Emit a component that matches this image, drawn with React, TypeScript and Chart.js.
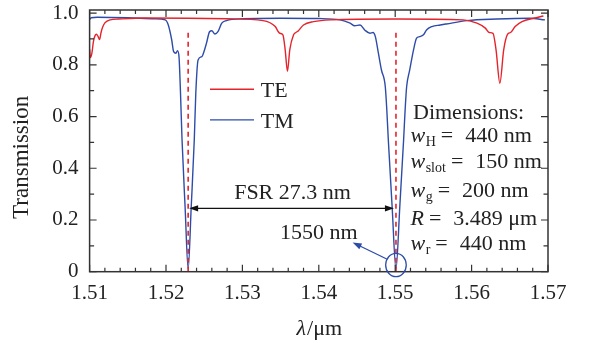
import React, { useEffect, useRef } from 'react';
import { Chart, registerables } from 'chart.js';

Chart.register(...registerables);

// ---------- data ----------
const TE_X = [
  1.5100, 1.5101, 1.5103, 1.5105, 1.5107, 1.5109, 1.5111, 1.5113, 1.5115, 1.5117,
  1.5120, 1.5127, 1.5138, 1.5173, 1.5229, 1.5280, 1.5327, 1.5343, 1.5347, 1.5349,
  1.5353, 1.5356, 1.5359, 1.5362, 1.5367, 1.5370, 1.5373, 1.5380, 1.5393, 1.5415,
  1.5501, 1.5589, 1.5607, 1.5618, 1.5623, 1.5628, 1.5632, 1.5637, 1.5642, 1.5647,
  1.5651, 1.5657, 1.5666, 1.5681, 1.5694,
];
const TE_Y = [
  0.860, 0.828, 0.845, 0.890, 0.912, 0.918, 0.910, 0.898, 0.925, 0.945,
  0.962, 0.974, 0.977, 0.981, 0.980, 0.978, 0.971, 0.948, 0.928, 0.922,
  0.916, 0.858, 0.775, 0.858, 0.916, 0.925, 0.931, 0.954, 0.967, 0.974,
  0.977, 0.974, 0.961, 0.942, 0.925, 0.922, 0.858, 0.729, 0.858, 0.918,
  0.925, 0.948, 0.967, 0.980, 0.989,
];
const TM_X = [
  1.5100, 1.5102, 1.5110, 1.5150, 1.5185, 1.5199, 1.5203, 1.52075, 1.5210, 1.5213,
  1.5215, 1.5217, 1.5219, 1.5221, 1.5225, 1.5229, 1.5233, 1.5237, 1.5239, 1.5242,
  1.5247, 1.5249, 1.5253, 1.5257, 1.5260, 1.5264, 1.5268, 1.5273, 1.5279, 1.5300,
  1.5350, 1.5400, 1.5428, 1.5441, 1.5447, 1.5454, 1.5460, 1.5467, 1.5471, 1.5474,
  1.5478, 1.5482, 1.5487, 1.5489, 1.5491, 1.5496, 1.5501, 1.5506, 1.5511, 1.5513,
  1.5515, 1.5519, 1.5524, 1.5528, 1.5532, 1.5537, 1.5541, 1.5548, 1.5559, 1.5567,
  1.5594, 1.5633, 1.5676, 1.5696,
];
const TM_Y = [
  0.975, 0.982, 0.984, 0.982, 0.978, 0.974, 0.954, 0.896, 0.851, 0.845,
  0.855, 0.832, 0.690, 0.509, 0.250, 0.010, 0.250, 0.509, 0.690, 0.819,
  0.832, 0.845, 0.884, 0.928, 0.932, 0.919, 0.928, 0.961, 0.971, 0.978,
  0.980, 0.979, 0.974, 0.961, 0.951, 0.954, 0.935, 0.922, 0.925, 0.909,
  0.845, 0.780, 0.716, 0.626, 0.509, 0.250, 0.010, 0.250, 0.509, 0.626,
  0.716, 0.780, 0.858, 0.903, 0.909, 0.916, 0.935, 0.948, 0.954, 0.958,
  0.971, 0.977, 0.980, 0.974,
];
const SERIES_LABELS = ['TE', 'TM'];
const RESONANCES = [1.5229, 1.5501];
const DASH_TOP = 0.928;
const FSR_LEVEL = 0.245;
const FSR_LABEL = 'FSR 27.3 nm';
const MARK_LABEL = '1550 nm';
const DIM_TITLE = 'Dimensions:';
const DIM_SYMBOLS = ['w', 'w', 'w', 'R', 'w'];
const DIM_SUBSCRIPTS = ['H', 'slot', 'g', '', 'r'];
const DIM_VALUES = ['440 nm', '150 nm', '200 nm', '3.489 μm', '440 nm'];

const X_MIN = 1.51;
const X_MAX = 1.57;
const Y_MIN = 0;
const Y_MAX = 1.012;
const X_TICKS = [1.51, 1.52, 1.53, 1.54, 1.55, 1.56, 1.57];
const X_TICK_LABELS = ['1.51', '1.52', '1.53', '1.54', '1.55', '1.56', '1.57'];
const Y_TICKS = [0, 0.2, 0.4, 0.6, 0.8, 1.0];
const Y_TICK_LABELS = ['0', '0.2', '0.4', '0.6', '0.8', '1.0'];
const X_TITLE_ITALIC = 'λ';
const X_TITLE_REST = '/μm';
const Y_TITLE = 'Transmission';

// ---------- styles & layout ----------
const RED = '#e5232b';
const BLUE = '#2d4ca8';
const AXIS = '#333333';
const TEXT = '#222222';
const FAMILY = "'Liberation Serif', 'Times New Roman', serif";
const font = (size: number, style = '') => `${style} ${size}px ${FAMILY}`.trim();

// annotation anchor positions (data coordinates)
const LEGEND_POS = { x0: 1.52576, x1: 1.53152, tx: 1.5324, lineY: [0.7056, 0.587], textY: [0.677, 0.555] };
const FSR_TEXT_POS = { x: 1.53656, y: 0.2797 };
const MARK_TEXT_POS = { x: 1.5400, y: 0.1265 };
const MARK_ARROW = { x0: 1.54889, y0: 0.049, x1: 1.54443, y1: 0.113 };
const MARK_ELLIPSE = { x: 1.5501, y: 0.026, rx: 10.3, ry: 11.7 };
const DIM_POS = { titleX: 1.55233, symX: 1.5520, baselines: [0.5896, 0.5017, 0.400, 0.290, 0.1807, 0.0839] };

function arrowHead(ctx: CanvasRenderingContext2D, tx: number, ty: number, ang: number, len: number, hw: number) {
  const bx = tx - Math.cos(ang) * len;
  const by = ty - Math.sin(ang) * len;
  const nx = -Math.sin(ang) * hw;
  const ny = Math.cos(ang) * hw;
  ctx.beginPath();
  ctx.moveTo(tx, ty);
  ctx.lineTo(bx + nx, by + ny);
  ctx.lineTo(bx - nx, by - ny);
  ctx.closePath();
  ctx.fill();
}

const decorPlugin = {
  id: 'decor',
  afterDatasetsDraw(chart: any) {
    const { ctx, chartArea: a } = chart;
    const xs = chart.scales.x;
    const ys = chart.scales.y;
    const X = (v: number) => xs.getPixelForValue(v);
    const Y = (v: number) => ys.getPixelForValue(v);
    ctx.save();

    // frame
    ctx.strokeStyle = AXIS;
    ctx.lineWidth = 1.5;
    ctx.strokeRect(a.left, a.top, a.right - a.left, a.bottom - a.top);

    // inward ticks on all four sides
    ctx.lineWidth = 1.2;
    ctx.beginPath();
    const xMinorCount = Math.round((X_MAX - X_MIN) / 0.002);
    for (let i = 0; i <= xMinorCount; i++) {
      const px = X(X_MIN + i * 0.002);
      const len = i % 5 === 0 ? 7 : 4;
      ctx.moveTo(px, a.bottom); ctx.lineTo(px, a.bottom - len);
      ctx.moveTo(px, a.top); ctx.lineTo(px, a.top + len);
    }
    for (let i = 0; i <= 10; i++) {
      const py = Y(i * 0.1);
      const len = i % 2 === 0 ? 7 : 4.5;
      ctx.moveTo(a.left, py); ctx.lineTo(a.left + len, py);
      ctx.moveTo(a.right, py); ctx.lineTo(a.right - len, py);
    }
    ctx.stroke();

    // FSR double arrow
    ctx.strokeStyle = '#111';
    ctx.fillStyle = '#111';
    ctx.lineWidth = 1.4;
    const fy = Y(FSR_LEVEL);
    const fx0 = X(RESONANCES[0]) + 1;
    const fx1 = X(RESONANCES[1]) - 2;
    ctx.beginPath();
    ctx.moveTo(fx0 + 8, fy); ctx.lineTo(fx1 - 8, fy);
    ctx.stroke();
    arrowHead(ctx, fx0, fy, Math.PI, 9, 3.2);
    arrowHead(ctx, fx1, fy, 0, 9, 3.2);

    // 1550 nm marker: ellipse + arrow
    ctx.strokeStyle = BLUE;
    ctx.fillStyle = BLUE;
    ctx.lineWidth = 1.3;
    ctx.beginPath();
    ctx.ellipse(X(MARK_ELLIPSE.x), Y(MARK_ELLIPSE.y), MARK_ELLIPSE.rx, MARK_ELLIPSE.ry, 0, 0, Math.PI * 2);
    ctx.stroke();
    const ax0 = X(MARK_ARROW.x0), ay0 = Y(MARK_ARROW.y0), ax1 = X(MARK_ARROW.x1), ay1 = Y(MARK_ARROW.y1);
    const ang = Math.atan2(ay1 - ay0, ax1 - ax0);
    ctx.beginPath();
    ctx.moveTo(ax0, ay0);
    ctx.lineTo(ax1 - Math.cos(ang) * 7, ay1 - Math.sin(ang) * 7);
    ctx.stroke();
    arrowHead(ctx, ax1, ay1, ang, 9, 3.2);

    ctx.restore();
  },
  afterDraw(chart: any) {
    const { ctx, chartArea: a } = chart;
    const xs = chart.scales.x;
    const ys = chart.scales.y;
    const X = (v: number) => xs.getPixelForValue(v);
    const Y = (v: number) => ys.getPixelForValue(v);
    ctx.save();
    ctx.fillStyle = TEXT;
    ctx.textBaseline = 'alphabetic';

    // legend
    const colors = [RED, BLUE];
    SERIES_LABELS.forEach((lab, i) => {
      ctx.strokeStyle = colors[i];
      ctx.lineWidth = 1.4;
      ctx.beginPath();
      ctx.moveTo(X(LEGEND_POS.x0), Y(LEGEND_POS.lineY[i]));
      ctx.lineTo(X(LEGEND_POS.x1), Y(LEGEND_POS.lineY[i]));
      ctx.stroke();
      ctx.fillStyle = TEXT;
      ctx.font = font(22);
      ctx.textAlign = 'left';
      ctx.fillText(lab, X(LEGEND_POS.tx), Y(LEGEND_POS.textY[i]));
    });

    // FSR text and 1550 nm text
    ctx.font = font(22);
    ctx.textAlign = 'center';
    ctx.fillText(FSR_LABEL, X(FSR_TEXT_POS.x), Y(FSR_TEXT_POS.y));
    ctx.fillText(MARK_LABEL, X(MARK_TEXT_POS.x), Y(MARK_TEXT_POS.y));

    // dimensions block
    ctx.textAlign = 'left';
    ctx.font = font(22);
    ctx.fillText(DIM_TITLE, X(DIM_POS.titleX), Y(DIM_POS.baselines[0]));
    DIM_SYMBOLS.forEach((sym, i) => {
      const by = Y(DIM_POS.baselines[i + 1]);
      let cx = X(DIM_POS.symX);
      ctx.font = font(22, 'italic');
      ctx.fillText(sym, cx, by);
      cx += ctx.measureText(sym).width;
      if (DIM_SUBSCRIPTS[i]) {
        ctx.font = font(14);
        ctx.fillText(DIM_SUBSCRIPTS[i], cx + 0.5, by + 4);
        cx += ctx.measureText(DIM_SUBSCRIPTS[i]).width + 0.5;
      }
      ctx.font = font(22);
      cx += 5;
      ctx.fillText('=', cx, by);
      cx += ctx.measureText('=').width + 12;
      ctx.fillText(DIM_VALUES[i], cx, by);
    });

    // axis titles
    ctx.font = font(22, 'italic');
    const w1 = ctx.measureText(X_TITLE_ITALIC).width;
    ctx.font = font(22);
    const w2 = ctx.measureText(X_TITLE_REST).width;
    const cxT = (a.left + a.right) / 2 - (w1 + w2) / 2;
    ctx.textAlign = 'left';
    ctx.font = font(22, 'italic');
    ctx.fillText(X_TITLE_ITALIC, cxT, a.bottom + 63.5);
    ctx.font = font(22);
    ctx.fillText(X_TITLE_REST, cxT + w1 + 1, a.bottom + 63.5);

    ctx.save();
    ctx.translate(28, (a.top + a.bottom) / 2 + 16.5);
    ctx.rotate(-Math.PI / 2);
    ctx.textAlign = 'center';
    ctx.font = font(23);
    ctx.fillText(Y_TITLE, 0, 0);
    ctx.restore();

    ctx.restore();
  },
};

export default function App() {
  const ref = useRef<HTMLCanvasElement | null>(null);
  useEffect(() => {
    if (!ref.current) return;
    const te = TE_X.map((x, i) => ({ x, y: TE_Y[i] }));
    const tm = TM_X.map((x, i) => ({ x, y: TM_Y[i] }));
    const dashes = RESONANCES.map((r) => ({
      label: '',
      data: [{ x: r, y: 0 }, { x: r, y: DASH_TOP }],
      borderColor: RED,
      borderWidth: 1.6,
      borderDash: [5, 4],
      pointRadius: 0,
      showLine: true,
      tension: 0,
    }));
    const chart = new Chart(ref.current, {
      type: 'scatter',
      data: {
        datasets: [
          ...dashes,
          {
            label: SERIES_LABELS[0], data: te, borderColor: RED, borderWidth: 1.4,
            pointRadius: 0, showLine: true, cubicInterpolationMode: 'monotone',
          },
          {
            label: SERIES_LABELS[1], data: tm, borderColor: BLUE, borderWidth: 1.4,
            pointRadius: 0, showLine: true, cubicInterpolationMode: 'monotone',
          },
        ] as any,
      },
      options: {
        animation: false,
        responsive: false,
        devicePixelRatio: 1,
        layout: { padding: { left: 0, right: 44, top: 10, bottom: 0 } },
        plugins: { legend: { display: false }, tooltip: { enabled: false } },
        scales: {
          x: {
            type: 'linear', min: X_MIN, max: X_MAX,
            grid: { display: false, drawTicks: false },
            border: { display: false },
            afterBuildTicks: (s: any) => { s.ticks = X_TICKS.map((v) => ({ value: v })); },
            afterFit: (s: any) => {
              s.height = 71.3;
              s.paddingLeft = 0; s.paddingRight = 0; s.paddingTop = 0; s.paddingBottom = 0;
            },
            ticks: {
              autoSkip: false, maxRotation: 0, padding: 9, color: TEXT,
              font: { family: FAMILY, size: 21 },
              callback: (_v: any, i: number) => X_TICK_LABELS[i],
            },
          },
          y: {
            type: 'linear', min: Y_MIN, max: Y_MAX,
            grid: { display: false, drawTicks: false },
            border: { display: false },
            afterBuildTicks: (s: any) => { s.ticks = Y_TICKS.map((v) => ({ value: v })); },
            afterFit: (s: any) => {
              s.width = 89.6;
              s.paddingLeft = 0; s.paddingRight = 0; s.paddingTop = 0; s.paddingBottom = 0;
            },
            ticks: {
              autoSkip: false, padding: 11, color: TEXT,
              font: { family: FAMILY, size: 21 },
              callback: (_v: any, i: number) => Y_TICK_LABELS[i],
            },
          },
        },
      } as any,
      plugins: [decorPlugin],
    });
    return () => chart.destroy();
  }, []);
  return (
    <div style={{ position: 'absolute', left: 0, top: 0, width: 592, height: 343, background: '#fff' }}>
      <canvas ref={ref} width={592} height={343} style={{ display: 'block' }} />
    </div>
  );
}
